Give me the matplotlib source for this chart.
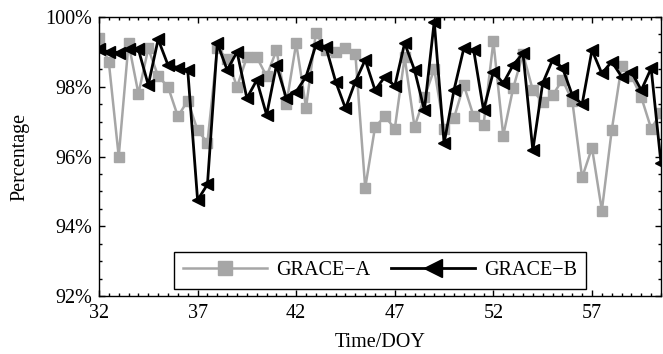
import numpy as np
import matplotlib
matplotlib.use('Agg')
import matplotlib.pyplot as plt
from matplotlib.ticker import MultipleLocator, FuncFormatter

plt.rcParams['font.family'] = ['Liberation Serif', 'DejaVu Serif']
plt.rcParams['font.size'] = 14.5

# time axis, every half day from DOY 32
doy = np.arange(32, 60.51, 0.5)

grace_a = [99.4, 98.7, 96.0, 99.25, 97.8, 99.1, 98.3, 98.0, 97.15, 97.6,
           96.75, 96.4, 99.1, 98.8, 98.0, 98.85, 98.85, 98.3, 99.05, 97.5,
           99.25, 97.4, 99.55, 99.05, 99.0, 99.1, 98.95, 95.1, 96.85, 97.15,
           96.8, 98.85, 96.85, 97.7, 98.5, 96.8, 97.1, 98.05, 97.15, 96.9,
           99.3, 96.6, 97.95, 98.95, 97.9, 97.55, 97.75, 98.2, 97.6, 95.4,
           96.25, 94.45, 96.75, 98.6, 98.3, 97.7, 96.8, 97.25]

grace_b = [99.07, 99.0, 98.98, 99.07, 99.07, 98.05, 99.36, 98.62, 98.55, 98.48,
           94.75, 95.2, 99.25, 98.48, 99.0, 97.67, 98.19, 97.19, 98.62, 97.67,
           97.86, 98.29, 99.2, 99.15, 98.15, 97.38, 98.15, 98.77, 97.9, 98.29,
           98.02, 99.25, 98.48, 97.33, 99.87, 96.38, 97.9, 99.1, 99.05, 97.33,
           98.43, 98.1, 98.62, 98.96, 96.18, 98.1, 98.77, 98.55, 97.76, 97.5,
           99.05, 98.38, 98.72, 98.29, 98.43, 97.9, 98.53, 95.8]

xticks = [32, 37, 42, 47, 52, 57]

fig = plt.figure(figsize=(6.63, 3.54), dpi=100)
ax = fig.add_axes([0.1493, 0.1638, 0.8477, 0.7882])

ax.plot(doy, grace_a, color='#a6a6a6', lw=1.8, marker='s', ms=7.5,
        mec='#a6a6a6', mfc='#a6a6a6', label='GRACE\u2212A', zorder=2)
ax.plot(doy, grace_b, color='black', lw=2.0, marker='<', ms=9,
        mec='black', mfc='black', label='GRACE\u2212B', zorder=3)

ax.set_xlim(32, 60.5)
ax.set_ylim(92, 100)
ax.set_xticks(xticks)
ax.xaxis.set_minor_locator(MultipleLocator(0.5))
ax.yaxis.set_major_locator(MultipleLocator(2))
ax.yaxis.set_minor_locator(MultipleLocator(0.5))
ax.yaxis.set_major_formatter(FuncFormatter(lambda v, p: '%d%%' % v))

ax.tick_params(which='both', direction='in', top=True, right=True, width=1)
ax.tick_params(which='major', length=4.5)
ax.tick_params(which='minor', length=2.5)
ax.tick_params(axis='x', pad=6)
ax.tick_params(axis='y', pad=5)
for s in ax.spines.values():
    s.set_linewidth(1.0)

ax.set_xlabel('Time/DOY', labelpad=7)
ax.set_ylabel('Percentage', labelpad=11)

leg = ax.legend(loc='lower center', ncol=2, handlelength=4.2, handletextpad=0.45,
                columnspacing=1.0, borderaxespad=0.35, markerscale=1.4,
                fancybox=False, edgecolor='black', framealpha=1,
                borderpad=0.45)
leg.get_frame().set_linewidth(1.0)

fig.savefig('out.png', dpi=100)
